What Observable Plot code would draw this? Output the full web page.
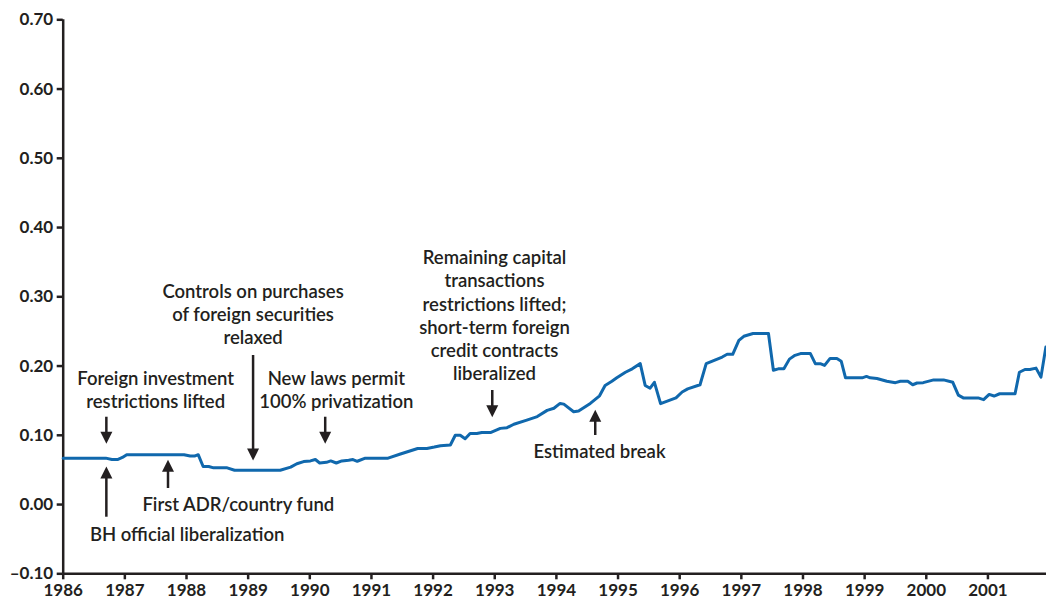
<!DOCTYPE html>
<html>
<head>
<meta charset="utf-8">
<script src="https://cdn.jsdelivr.net/npm/d3@7"></script>
<script src="https://cdn.jsdelivr.net/npm/@observablehq/plot@0.6"></script>
<style>
  html, body { margin: 0; padding: 0; background: #fff; }
  #chart svg { display: block; }
</style>
</head>
<body>
<div id="chart"></div>
<script>
// Series (decimal year, value)
const years = [1986.00,1986.69,1986.79,1986.88,1986.96,1987.03,1987.96,1988.06,1988.13,1988.19,1988.27,1988.36,1988.44,1988.66,1988.78,1989.52,1989.69,1989.79,1989.90,1990.01,1990.09,1990.16,1990.27,1990.34,1990.43,1990.52,1990.63,1990.70,1990.77,1990.90,1991.27,1991.47,1991.75,1991.90,1992.02,1992.12,1992.28,1992.36,1992.44,1992.52,1992.60,1992.71,1992.79,1992.93,1993.09,1993.20,1993.31,1993.52,1993.69,1993.85,1993.96,1994.06,1994.12,1994.28,1994.36,1994.55,1994.70,1994.79,1994.90,1994.98,1995.12,1995.23,1995.36,1995.44,1995.52,1995.59,1995.69,1995.82,1995.94,1996.04,1996.13,1996.33,1996.43,1996.55,1996.69,1996.77,1996.86,1996.96,1997.04,1997.19,1997.44,1997.52,1997.60,1997.69,1997.78,1997.87,1997.96,1998.12,1998.20,1998.28,1998.35,1998.44,1998.55,1998.62,1998.69,1998.96,1999.03,1999.09,1999.20,1999.36,1999.50,1999.58,1999.70,1999.78,1999.85,1999.95,2000.12,2000.28,2000.43,2000.52,2000.60,2000.84,2000.93,2001.02,2001.10,2001.19,2001.44,2001.51,2001.60,2001.68,2001.78,2001.86,2001.94];
const values = [0.067,0.067,0.065,0.065,0.068,0.072,0.072,0.070,0.070,0.072,0.055,0.055,0.053,0.053,0.0495,0.0495,0.054,0.059,0.062,0.063,0.065,0.060,0.061,0.063,0.060,0.063,0.064,0.065,0.0625,0.067,0.067,0.073,0.081,0.081,0.083,0.085,0.086,0.100,0.100,0.095,0.1025,0.1025,0.104,0.104,0.110,0.111,0.116,0.122,0.127,0.136,0.139,0.146,0.145,0.134,0.135,0.146,0.157,0.172,0.178,0.183,0.191,0.196,0.2035,0.172,0.168,0.1765,0.1457,0.150,0.154,0.1625,0.167,0.173,0.2035,0.208,0.213,0.217,0.217,0.237,0.243,0.247,0.247,0.194,0.196,0.196,0.210,0.2155,0.218,0.218,0.2035,0.2035,0.201,0.211,0.211,0.207,0.183,0.183,0.185,0.183,0.182,0.178,0.176,0.178,0.178,0.173,0.1755,0.176,0.180,0.180,0.1765,0.158,0.154,0.154,0.1515,0.159,0.1567,0.160,0.160,0.191,0.195,0.195,0.197,0.184,0.2275];

// Axis ticks
const xTicks = [1986,1987,1988,1989,1990,1991,1992,1993,1994,1995,1996,1997,1998,1999,2000,2001];
const yTicks = [-0.10,0.00,0.10,0.20,0.30,0.40,0.50,0.60,0.70];
const yTickLabels = ["\u20130.10","0.00","0.10","0.20","0.30","0.40","0.50","0.60","0.70"];

// Annotation labels
const noteText = [
  "Foreign investment\nrestrictions lifted",
  "BH official liberalization",
  "First ADR/country fund",
  "Controls on purchases\nof foreign securities\nrelaxed",
  "New laws permit\n100% privatization",
  "Remaining capital\ntransactions\nrestrictions lifted;\nshort-term foreign\ncredit contracts\nliberalized",
  "Estimated break"
];
const noteX = [1987.50, 1988.01, 1988.84, 1989.08, 1990.43, 1992.996, 1994.70];
const noteY = [0.1671, -0.0422, 0.0011, 0.2759, 0.1671, 0.2742, 0.078];

// Arrows: x, tail y, tip y
const arrowX    = [1986.70, 1986.70, 1987.70, 1989.08, 1990.25, 1992.96, 1994.63];
const arrowTail = [0.1261, -0.0183, 0.0232, 0.2152, 0.1261, 0.1647, 0.0997];
const arrowTip  = [0.0877, 0.0549, 0.0646, 0.0636, 0.0877, 0.1261, 0.1368];

const series = years.map((y, i) => ({year: y, value: values[i]}));
const notes = noteText.map((t, i) => ({text: t, x: noteX[i], y: noteY[i]}));
const arrows = arrowX.map((x, i) => ({x, tail: arrowTail[i], tip: arrowTip[i], down: arrowTip[i] < arrowTail[i]}));

// Custom arrowhead symbols with the apex at the origin
const headW = 12, headH = 12;
const headDown = {draw(ctx) { ctx.moveTo(0, 0); ctx.lineTo(-headW/2, -headH); ctx.lineTo(headW/2, -headH); ctx.closePath(); }};
const headUp = {draw(ctx) { ctx.moveTo(0, 0); ctx.lineTo(-headW/2, headH); ctx.lineTo(headW/2, headH); ctx.closePath(); }};

const ink = "#231f20";
const fontFamily = "Lato, 'Open Sans', sans-serif";

const chart = Plot.plot({
  width: 1046,
  height: 604,
  marginLeft: 62.7,
  marginRight: 0,
  marginTop: 19.3,
  marginBottom: 30.7,
  style: {fontFamily, fontSize: "17px", color: ink, background: "#fff", overflow: "visible"},
  x: {domain: [1986, 2001.95]},
  y: {domain: [-0.10, 0.70]},
  marks: [
    Plot.axisY({ticks: yTicks, tickFormat: (d) => yTickLabels[yTicks.findIndex(t => Math.abs(t - d) < 1e-9)], tickSize: 6, tickPadding: 4, strokeWidth: 2.5, fontWeight: "bold", fontSize: 17, label: null, stroke: ink, fill: ink}),
    Plot.axisX({ticks: xTicks, tickFormat: (d) => String(d), tickSize: 6, tickPadding: 4, strokeWidth: 2.5, fontWeight: "bold", fontSize: 17, label: null, stroke: ink, fill: ink}),
    Plot.ruleX([1986], {y1: -0.10, y2: 0.70, stroke: ink, strokeWidth: 2.5}),
    Plot.ruleY([-0.10], {stroke: ink, strokeWidth: 2.5}),
    Plot.line(series, {x: "year", y: "value", stroke: "#1068ad", strokeWidth: 3, strokeLinejoin: "round"}),
    Plot.ruleX(arrows, {x: "x", y1: "tail", y2: (d) => d.tip + (d.down ? 0.008 : -0.008), stroke: ink, strokeWidth: 2.5}),
    Plot.dot(arrows.filter(d => d.down), {x: "x", y: "tip", symbol: headDown, r: 5, fill: ink, stroke: "none"}),
    Plot.dot(arrows.filter(d => !d.down), {x: "x", y: "tip", symbol: headUp, r: 5, fill: ink, stroke: "none"}),
    Plot.text(notes, {x: "x", y: "y", text: "text", lineAnchor: "middle", textAnchor: "middle", lineHeight: 1.245, fontSize: 18.5, fontWeight: 600, fill: ink})
  ]
});
document.getElementById("chart").appendChild(chart);
</script>
</body>
</html>
